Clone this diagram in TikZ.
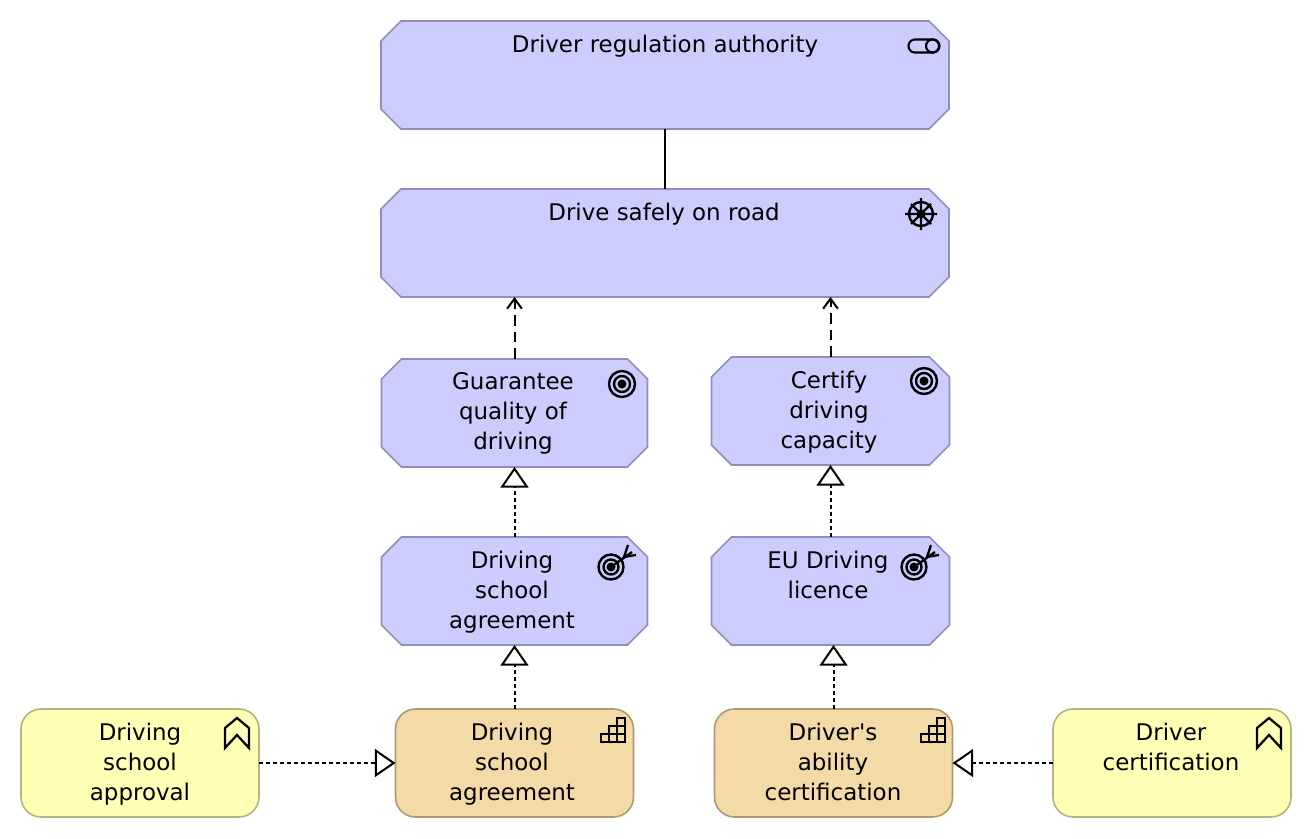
\documentclass[tikz,border=0pt]{standalone}
\usepackage{fontspec}
\setmainfont{DejaVu Sans}
\usetikzlibrary{arrows.meta}
\definecolor{motivfill}{HTML}{CCCCFF}
\definecolor{motivline}{HTML}{8F8FB8}
\definecolor{stratfill}{HTML}{F3DAA6}
\definecolor{stratline}{HTML}{AD9A73}
\definecolor{implfill}{HTML}{FFFFB5}
\definecolor{implline}{HTML}{B3B37F}
\tikzset{
  motivbox/.style={rectangle,inner sep=0pt,outer sep=0pt,minimum height=81pt,
    append after command={\pgfextra{\draw[draw=motivline,fill=motivfill,line width=1.2pt]
      ([xshift=15pt]\tikzlastnode.north west) -- ([xshift=-15pt]\tikzlastnode.north east)
      -- ([yshift=-15pt]\tikzlastnode.north east) -- ([yshift=15pt]\tikzlastnode.south east)
      -- ([xshift=-15pt]\tikzlastnode.south east) -- ([xshift=15pt]\tikzlastnode.south west)
      -- ([yshift=15pt]\tikzlastnode.south west) -- ([yshift=-15pt]\tikzlastnode.north west) -- cycle;}}},
  roundbox/.style={rectangle,rounded corners=15pt,line width=1.2pt,inner sep=0pt,outer sep=0pt,minimum width=178.5pt,minimum height=81pt},
  stratbox/.style={roundbox,draw=stratline,fill=stratfill},
  implbox/.style={roundbox,draw=implline,fill=implfill},
  boxtext/.style={anchor=north,align=center,inner sep=0pt,font=\fontsize{17.2}{22.5}\selectfont},
  influence/.style={line width=1.5pt,dash pattern=on 8pt off 4.5pt,-{Straight Barb[length=7.5pt,width=11pt,line width=1.5pt]}},
  realize/.style={line width=1.5pt,dash pattern=on 3pt off 2.25pt,-{Triangle[open,length=15.5pt,width=21pt,fill=white,line width=1.5pt]}},
  pics/roleicon/.style={code={
    \draw[line width=1.6pt,rounded corners=4.8pt] (-15.5,-6.5) rectangle (15.5,6.5);
    \draw[line width=1.6pt] (8.5,0) circle (6.5);
  }},
  pics/drivericon/.style={code={
    \draw[line width=1.8pt] (0,0) circle (12);
    \fill (0,0) circle (4.5);
    \draw[line width=1.7pt] (-16,0) -- (16,0) (0,-16) -- (0,16) (-10,-10) -- (10,10) (-10,10) -- (10,-10);
  }},
  pics/goalicon/.style={code={
    \draw[line width=1.8pt] (0,0) circle (13) (0,0) circle (8);
    \fill (0,0) circle (4.5);
  }},
  pics/outcomeicon/.style={code={
    \draw[line width=1.8pt] (0,0) circle (12.5) (0,0) circle (7.5);
    \fill (0,0) circle (4.5);
    \draw[line width=1.7pt] (0,0) -- (21,-15) (13,-10) -- (17,-22) (13,-10) -- (25,-12);
  }},
  pics/stairsicon/.style={code={
    \draw[line width=1.7pt] (0,16) rectangle (24,24) (8,8) rectangle (24,16) (16,0) rectangle (24,8) (8,16) -- (8,24) (16,8) -- (16,24);
  }},
  pics/chevronicon/.style={code={
    \draw[line width=1.7pt] (0,30) -- (0,10) -- (12,0) -- (24,10) -- (24,30) -- (12,17) -- cycle;
  }}
}
\begin{document}
\begin{tikzpicture}[x=0.75pt,y=-0.75pt]
\useasboundingbox (0,0) rectangle (1312,838);

\node [motivbox,minimum width=426pt] (authority) at (665,75) {};
\node [motivbox,minimum width=426pt] (safely) at (665,243) {};
\node [motivbox,minimum width=199.5pt] (guarantee) at (514.5,413) {};
\node [motivbox,minimum width=178.5pt] (certify) at (830.5,411) {};
\node [motivbox,minimum width=199.5pt] (schoolgoal) at (514.5,591) {};
\node [motivbox,minimum width=178.5pt] (licence) at (830.5,591) {};
\node [implbox] (approval) at (140,763) {};
\node [stratbox] (schoolcap) at (514.5,763) {};
\node [stratbox] (abilitycap) at (833.5,763) {};
\node [implbox] (certification) at (1172,763) {};

\node [boxtext] (authoritytext) at (665,35) {Driver regulation authority};
\node [boxtext] (safelytext) at (664,203) {Drive safely on road};
\node [boxtext] (guaranteetext) at (513,372.5) {Guarantee\\quality of\\driving};
\node [boxtext] (certifytext) at (829,370.5) {Certify\\driving\\capacity};
\node [boxtext] (schoolgoaltext) at (512,551) {Driving\\school\\agreement};
\node [boxtext] (licencetext) at (828,551) {EU Driving\\licence};
\node [boxtext] (approvaltext) at (140,723) {Driving\\school\\approval};
\node [boxtext] (schoolcaptext) at (512,723) {Driving\\school\\agreement};
\node [boxtext] (abilitytext) at (833,723) {Driver\textquotesingle s\\ability\\certification};
\node [boxtext] (certificationtext) at (1171,723) {Driver\\certification};

\draw [line width=1.5pt] (authority.south) -- (safely.north);
\draw [influence] (guarantee.north) -- (guarantee.north |- safely.south);
\draw [influence] (certify.north) -- (certify.north |- safely.south);
\draw [realize] (schoolgoal.north) -- (guarantee.south);
\draw [realize] (licence.north) -- (licence.north |- certify.south);
\draw [realize] (schoolcap.north) -- (schoolgoal.south);
\draw [realize] (abilitycap.north) -- (abilitycap.north |- licence.south);
\draw [realize] (approval.east) -- (schoolcap.west);
\draw [realize] (certification.west) -- (abilitycap.east);

\pic at (924,46) {roleicon};
\pic at (921,214) {drivericon};
\pic at (622,384) {goalicon};
\pic at (924,381) {goalicon};
\pic at (611,567) {outcomeicon};
\pic at (914,567) {outcomeicon};
\pic at (601,718) {stairsicon};
\pic at (921,718) {stairsicon};
\pic at (225,718) {chevronicon};
\pic at (1257,718) {chevronicon};
\end{tikzpicture}
\end{document}
